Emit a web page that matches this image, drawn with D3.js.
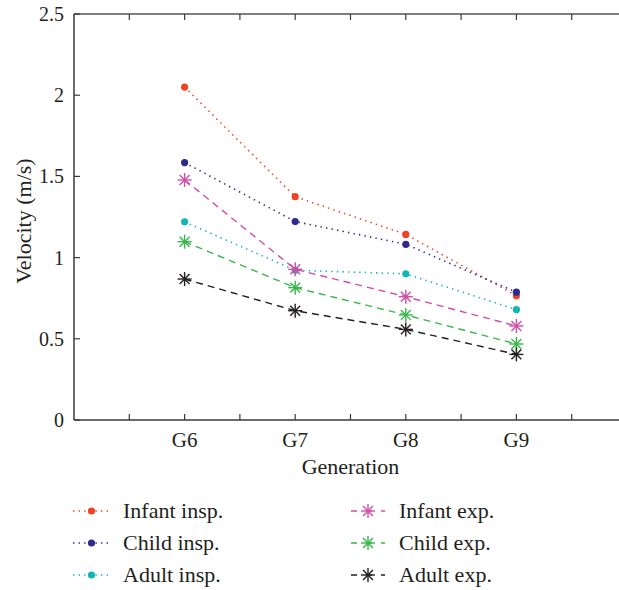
<!DOCTYPE html>
<html>
<head>
<meta charset="utf-8">
<script src="https://cdn.jsdelivr.net/npm/d3@7"></script>
<style>
  html, body { margin: 0; padding: 0; background: #fff; }
  svg text { font-family: "Liberation Serif", "DejaVu Serif", serif; fill: #231f20; }
</style>
</head>
<body>
<div id="chart"></div>
<script>
// generations along the x axis
var generations = ['G6', 'G7', 'G8', 'G9'];
var genPos = [6, 7, 8, 9];

// velocities (m/s)
var infantInsp = [2.05, 1.375, 1.143, 0.765];
var childInsp  = [1.585, 1.222, 1.082, 0.787];
var adultInsp  = [1.22, 0.922, 0.9, 0.68];
var infantExp  = [1.478, 0.928, 0.759, 0.579];
var childExp   = [1.098, 0.815, 0.647, 0.468];
var adultExp   = [0.868, 0.673, 0.558, 0.404];

var yTicks = [0, 0.5, 1, 1.5, 2, 2.5];
var yTickLabels = ['0', '0.5', '1', '1.5', '2', '2.5'];

var series = [
	{ name: 'Infant insp.', values: infantInsp, color: '#ee4324', kind: 'insp' },
	{ name: 'Child insp.',  values: childInsp,  color: '#2e2a8f', kind: 'insp' },
	{ name: 'Adult insp.',  values: adultInsp,  color: '#14b5b5', kind: 'insp' },
	{ name: 'Infant exp.',  values: infantExp,  color: '#cf4fa6', kind: 'exp' },
	{ name: 'Child exp.',   values: childExp,   color: '#38b64a', kind: 'exp' },
	{ name: 'Adult exp.',   values: adultExp,   color: '#231f20', kind: 'exp' }
];

var W = 619, H = 590;
var pLeft = 74, pTop = 14, pBottom = 420, pRight = 627;

var svg = d3.select('#chart').append('svg').attr('width', W).attr('height', H);

var x = d3.scaleLinear().domain([5, 10]).range([pLeft, pRight]);
var y = d3.scaleLinear().domain([0, 2.5]).range([pBottom, pTop]);

var xTickVals = d3.range(5.5, 10, 0.5);

// frame
var axisColor = '#3a3a3a';
svg.append('line').attr('x1', pLeft).attr('x2', pRight).attr('y1', pBottom).attr('y2', pBottom)
	.attr('stroke', axisColor).attr('stroke-width', 1.5);
svg.append('line').attr('x1', pLeft).attr('x2', pRight).attr('y1', pTop).attr('y2', pTop)
	.attr('stroke', '#555').attr('stroke-width', 1.5);
svg.append('line').attr('x1', pLeft).attr('x2', pLeft).attr('y1', pTop).attr('y2', pBottom)
	.attr('stroke', axisColor).attr('stroke-width', 1.5);

// x ticks (inward, top and bottom)
xTickVals.forEach(function(v) {
	svg.append('line').attr('x1', x(v)).attr('x2', x(v)).attr('y1', pBottom).attr('y2', pBottom - 6)
		.attr('stroke', axisColor).attr('stroke-width', 1.2);
	svg.append('line').attr('x1', x(v)).attr('x2', x(v)).attr('y1', pTop).attr('y2', pTop + 6)
		.attr('stroke', axisColor).attr('stroke-width', 1.2);
});

// y ticks
yTicks.forEach(function(v, i) {
	svg.append('line').attr('x1', pLeft).attr('x2', pLeft + 6).attr('y1', y(v)).attr('y2', y(v))
		.attr('stroke', axisColor).attr('stroke-width', 1.2);
	svg.append('text').attr('x', pLeft - 10).attr('y', y(v)).attr('dy', '0.35em')
		.attr('text-anchor', 'end').style('font-size', '20px').text(yTickLabels[i]);
});

// x labels
generations.forEach(function(g, i) {
	svg.append('text').attr('x', x(genPos[i])).attr('y', pBottom + 27)
		.attr('text-anchor', 'middle').style('font-size', '21px').text(g);
});

svg.append('text').attr('x', x(7.5)).attr('y', 474)
	.attr('text-anchor', 'middle').style('font-size', '22px').text('Generation');

svg.append('text').attr('transform', 'translate(31,' + ((pTop + pBottom) / 2 + 4) + ') rotate(-90)')
	.attr('text-anchor', 'middle').style('font-size', '22px').text('Velocity (m/s)');

var dashFor = function(kind) { return kind === 'insp' ? '1.4,4.2' : '7,5'; };

function star(g, cx, cy, r, color) {
	[0, 45, 90, 135].forEach(function(a) {
		var rad = a * Math.PI / 180;
		g.append('line')
			.attr('x1', cx - r * Math.cos(rad)).attr('y1', cy - r * Math.sin(rad))
			.attr('x2', cx + r * Math.cos(rad)).attr('y2', cy + r * Math.sin(rad))
			.attr('stroke', color).attr('stroke-width', 1.4);
	});
}

function marker(g, s, cx, cy) {
	if (s.kind === 'insp')
		g.append('circle').attr('cx', cx).attr('cy', cy).attr('r', 3.6).attr('fill', s.color);
	else
		star(g, cx, cy, 7, s.color);
}

var line = d3.line().x(function(d, i) { return x(genPos[i]); }).y(function(d) { return y(d); });

var plot = svg.append('g');
series.forEach(function(s) {
	var g = plot.append('g');
	g.append('path').datum(s.values).attr('d', line)
		.attr('fill', 'none').attr('stroke', s.color)
		.attr('stroke-width', s.kind === 'insp' ? 1.6 : 1.4)
		.attr('stroke-dasharray', dashFor(s.kind));
	s.values.forEach(function(v, i) { marker(g, s, x(genPos[i]), y(v)); });
});

// legend, two columns of three
var legendRows = [511, 543, 575];
var legendCols = [{ x0: 73, x1: 110, tx: 123 }, { x0: 351, x1: 385, tx: 399 }];
series.forEach(function(s, i) {
	var col = legendCols[Math.floor(i / 3)];
	var ly = legendRows[i % 3];
	var g = svg.append('g');
	g.append('line').attr('x1', col.x0).attr('x2', col.x1).attr('y1', ly).attr('y2', ly)
		.attr('stroke', s.color).attr('stroke-width', s.kind === 'insp' ? 1.6 : 1.4)
		.attr('stroke-dasharray', s.kind === 'insp' ? '1.4,4.2' : '6,9');
	marker(g, s, (col.x0 + col.x1) / 2, ly);
	g.append('text').attr('x', col.tx).attr('y', ly).attr('dy', '0.33em')
		.style('font-size', '22px').text(s.name);
});
</script>
</body>
</html>
